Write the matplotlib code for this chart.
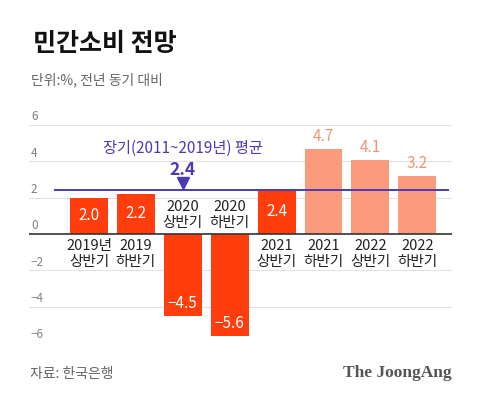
import matplotlib
matplotlib.use("Agg")
import matplotlib.pyplot as plt

plt.rcParams['font.family'] = ['Noto Sans CJK KR', 'DejaVu Sans']

periods = ["2019년\n상반기", "2019\n하반기", "2020\n상반기", "2020\n하반기",
           "2021\n상반기", "2021\n하반기", "2022\n상반기", "2022\n하반기"]
values = [2.0, 2.2, -4.5, -5.6, 2.4, 4.7, 4.1, 3.2]
is_forecast = [False, False, False, False, False, True, True, True]
avg_value = 2.4
avg_label = "장기(2011~2019년) 평균"
yticks = [-6, -4, -2, 0, 2, 4, 6]

dark = '#ff3d0d'
light = '#fb9b7b'
light_txt = '#ef9474'
purple = '#4a3bb5'

fig = plt.figure(figsize=(4.8, 4.02), dpi=100)
ax = fig.add_axes([29 / 480, 1 - 344 / 402, 423 / 480, 218 / 402])
ax.set_xlim(-1.28, 7.74)
ax.set_ylim(-6, 6)
ax.axis('off')

for t in yticks:
    if t != 0:
        ax.axhline(t, color='#e2e2e2', lw=0.8, zorder=0)
    lab = str(t).replace('-', '\u2212')
    ax.text(-1.24, t + 0.5, lab, ha='left', va='center', fontsize=8.5, color='#808080')

x = list(range(len(values)))
cols = [light if f else dark for f in is_forecast]
ax.bar(x, values, width=0.81, color=cols, zorder=2)
ax.axhline(0, color='#333', lw=1.2, zorder=3)

for i, (v, f, p) in enumerate(zip(values, is_forecast, periods)):
    s = f"{v:.1f}".replace('-', '\u2212')
    if f:
        ax.text(i, v + 0.72, s, ha='center', va='center', fontsize=11, color=light_txt, zorder=4)
    elif v > 0:
        ax.text(i, v / 2 + 0.1, s, ha='center', va='center', fontsize=11, color='white', zorder=4)
    else:
        ax.text(i, v + 0.75, s, ha='center', va='center', fontsize=11, color='white', zorder=4)
    if v > 0:
        ax.text(i, -0.2, p, ha='center', va='top', fontsize=10.5, color='#222',
                linespacing=1.2, zorder=4)
    else:
        ax.text(i, 0.25, p, ha='center', va='bottom', fontsize=10.5, color='#222',
                linespacing=1.2, zorder=4)

ax.plot([-0.725, 7.65], [avg_value, avg_value], color=purple, lw=1.4, zorder=3)
ax.text(2, 4.75, avg_label, ha='center', va='center', fontsize=11, color=purple)
ax.text(2, 3.6, f"{avg_value:.1f}", ha='center', va='center', fontsize=12.5,
        fontweight='bold', color=purple)
ax.plot([2], [2.8], marker='v', ms=8, color=purple, zorder=4, clip_on=False)

fig.text(33 / 480, 1 - 44 / 402, "민간소비 전망", fontsize=18, fontweight='heavy',
         color='#111', ha='left', va='center')
fig.text(31 / 480, 1 - 80 / 402, "단위:%, 전년 동기 대비", fontsize=10, color='#666',
         ha='left', va='center')
fig.text(30 / 480, 1 - 374 / 402, "자료: 한국은행", fontsize=10, color='#666',
         ha='left', va='center')
fig.text(452 / 480, 1 - 373 / 402, "The JoongAng", fontsize=12.5, fontweight='bold',
         family='Liberation Serif', color='#555', ha='right', va='center')

fig.savefig('out.png', dpi=100)
